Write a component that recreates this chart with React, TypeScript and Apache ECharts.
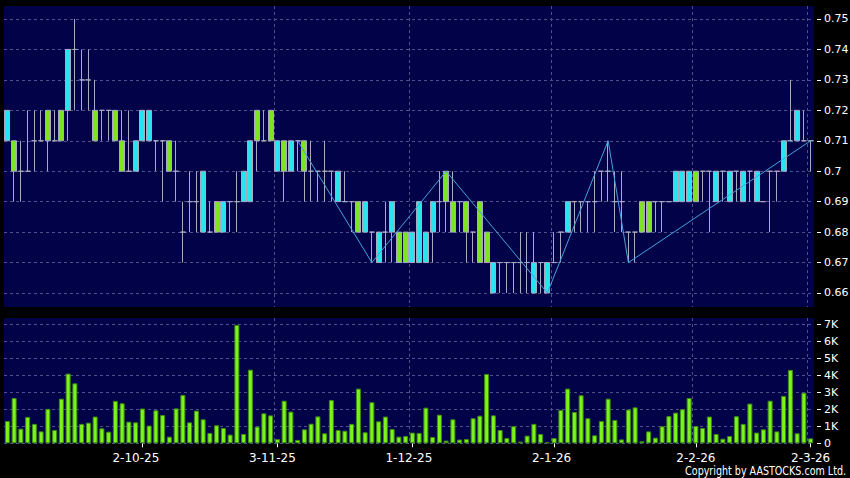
import React, { useEffect, useRef } from 'react';
import * as echarts from 'echarts';

// ---- trading days (day numbers per month) ----
const SEP_25 = [3, 4, 5, 8, 9, 10, 11, 12, 15, 16, 17, 18, 19, 22, 23, 24, 25, 26, 29, 30];
const OCT_25 = [2, 3, 6, 8, 9, 10, 13, 14, 15, 16, 17, 20, 21, 22, 23, 24, 27, 28, 30, 31];
const NOV_25 = [3, 4, 5, 6, 7, 10, 11, 12, 13, 14, 17, 18, 19, 20, 21, 24, 25, 26, 27, 28];
const DEC_25 = [1, 2, 3, 4, 5, 8, 9, 10, 11, 12, 15, 16, 17, 18, 19, 22, 23, 24, 29, 30, 31];
const JAN_26 = [2, 5, 6, 7, 8, 9, 12, 13, 14, 15, 16, 19, 20, 21, 22, 23, 26, 27, 28, 29, 30];
const FEB_26 = [2, 3, 4, 5, 6, 9, 10, 11, 12, 13, 16, 20, 23, 24, 25, 26, 27];
const MAR_26 = [2];

const MONTHS: [number[], number, number][] = [
  [SEP_25, 9, 25], [OCT_25, 10, 25], [NOV_25, 11, 25], [DEC_25, 12, 25],
  [JAN_26, 1, 26], [FEB_26, 2, 26], [MAR_26, 3, 26],
];
const CATEGORIES: string[] = MONTHS.flatMap(([days, m, y]) => days.map((d) => `${d}-${m}-${y}`));

const LABELED_DATES = ['2-10-25', '3-11-25', '1-12-25', '2-1-26', '2-2-26', '2-3-26'];

// ---- price data ----
const OPEN = [
  0.71, 0.71, 0.70, 0.70, 0.71, 0.71, 0.72, 0.71, 0.72, 0.72,
  0.74, 0.73, 0.73, 0.72, 0.72, 0.72, 0.72, 0.71, 0.70, 0.70,
  0.71, 0.71, 0.71, 0.71, 0.71, 0.70, 0.68, 0.69, 0.69, 0.68,
  0.68, 0.69, 0.68, 0.69, 0.69, 0.69, 0.69, 0.72, 0.71, 0.72,
  0.70, 0.71, 0.70, 0.71, 0.71, 0.70, 0.70, 0.70, 0.70, 0.69,
  0.69, 0.69, 0.69, 0.68, 0.68, 0.67, 0.68, 0.68, 0.68, 0.68,
  0.67, 0.67, 0.67, 0.68, 0.69, 0.70, 0.69, 0.69, 0.69, 0.68,
  0.69, 0.68, 0.66, 0.67, 0.67, 0.67, 0.67, 0.67, 0.66, 0.67,
  0.66, 0.67, 0.68, 0.68, 0.69, 0.69, 0.69, 0.69, 0.70, 0.70,
  0.69, 0.69, 0.68, 0.68, 0.69, 0.69, 0.69, 0.69, 0.69, 0.69,
  0.69, 0.69, 0.70, 0.70, 0.70, 0.69, 0.70, 0.69, 0.70, 0.69,
  0.70, 0.69, 0.69, 0.70, 0.70, 0.70, 0.71, 0.71, 0.71, 0.71,
];
const CLOSE = [
  0.72, 0.70, 0.70, 0.70, 0.71, 0.71, 0.71, 0.71, 0.71, 0.74,
  0.74, 0.73, 0.73, 0.71, 0.72, 0.72, 0.71, 0.70, 0.70, 0.71,
  0.72, 0.72, 0.71, 0.71, 0.70, 0.70, 0.68, 0.69, 0.69, 0.70,
  0.68, 0.68, 0.69, 0.69, 0.69, 0.70, 0.71, 0.71, 0.71, 0.71,
  0.71, 0.70, 0.71, 0.71, 0.70, 0.70, 0.70, 0.70, 0.70, 0.70,
  0.69, 0.69, 0.68, 0.69, 0.68, 0.68, 0.68, 0.69, 0.67, 0.67,
  0.68, 0.69, 0.68, 0.69, 0.69, 0.69, 0.68, 0.69, 0.68, 0.68,
  0.67, 0.67, 0.67, 0.67, 0.67, 0.67, 0.67, 0.67, 0.67, 0.67,
  0.67, 0.67, 0.68, 0.69, 0.69, 0.69, 0.69, 0.69, 0.70, 0.70,
  0.69, 0.69, 0.68, 0.68, 0.68, 0.68, 0.69, 0.69, 0.69, 0.70,
  0.70, 0.70, 0.69, 0.70, 0.70, 0.70, 0.70, 0.70, 0.70, 0.70,
  0.70, 0.70, 0.69, 0.70, 0.70, 0.71, 0.71, 0.72, 0.71, 0.71,
];
const LOW = [
  0.71, 0.69, 0.69, 0.70, 0.70, 0.71, 0.70, 0.71, 0.71, 0.71,
  0.72, 0.72, 0.72, 0.71, 0.71, 0.71, 0.71, 0.70, 0.70, 0.70,
  0.71, 0.71, 0.70, 0.69, 0.70, 0.69, 0.67, 0.68, 0.68, 0.68,
  0.68, 0.68, 0.68, 0.68, 0.68, 0.69, 0.69, 0.70, 0.71, 0.71,
  0.70, 0.69, 0.70, 0.70, 0.69, 0.69, 0.69, 0.69, 0.69, 0.69,
  0.69, 0.68, 0.68, 0.68, 0.67, 0.67, 0.67, 0.67, 0.67, 0.67,
  0.67, 0.67, 0.67, 0.67, 0.68, 0.68, 0.68, 0.68, 0.67, 0.67,
  0.67, 0.67, 0.66, 0.66, 0.66, 0.66, 0.66, 0.66, 0.66, 0.66,
  0.66, 0.67, 0.67, 0.68, 0.68, 0.68, 0.68, 0.68, 0.69, 0.69,
  0.68, 0.68, 0.67, 0.67, 0.68, 0.68, 0.68, 0.68, 0.69, 0.69,
  0.69, 0.69, 0.69, 0.69, 0.68, 0.69, 0.69, 0.69, 0.69, 0.69,
  0.69, 0.69, 0.69, 0.68, 0.69, 0.70, 0.71, 0.71, 0.71, 0.70,
];
const HIGH = [
  0.72, 0.71, 0.71, 0.72, 0.72, 0.72, 0.72, 0.72, 0.72, 0.74,
  0.75, 0.74, 0.74, 0.73, 0.72, 0.72, 0.72, 0.72, 0.72, 0.71,
  0.72, 0.72, 0.71, 0.71, 0.71, 0.71, 0.69, 0.70, 0.70, 0.70,
  0.69, 0.69, 0.69, 0.69, 0.70, 0.70, 0.71, 0.72, 0.72, 0.72,
  0.71, 0.71, 0.71, 0.71, 0.71, 0.71, 0.70, 0.71, 0.70, 0.70,
  0.70, 0.69, 0.69, 0.69, 0.68, 0.68, 0.69, 0.69, 0.68, 0.68,
  0.68, 0.69, 0.68, 0.69, 0.70, 0.70, 0.70, 0.69, 0.69, 0.68,
  0.69, 0.68, 0.67, 0.67, 0.67, 0.67, 0.68, 0.68, 0.68, 0.67,
  0.67, 0.68, 0.68, 0.69, 0.69, 0.69, 0.69, 0.70, 0.70, 0.71,
  0.70, 0.70, 0.68, 0.68, 0.69, 0.69, 0.69, 0.69, 0.69, 0.70,
  0.70, 0.70, 0.70, 0.70, 0.70, 0.70, 0.70, 0.70, 0.70, 0.70,
  0.70, 0.70, 0.69, 0.70, 0.70, 0.71, 0.73, 0.72, 0.72, 0.71,
];

// zig-zag pivots (category index, price)
const ZZ_INDEX = [43, 54, 65, 80, 89, 92, 119];
const ZZ_PRICE = [0.71, 0.67, 0.70, 0.66, 0.71, 0.67, 0.71];

// ---- volume ----
const VOLUME = [
  1310, 2660, 860, 1550, 1140, 700, 2020, 780, 2620, 4090,
  3520, 1140, 1210, 1570, 880, 680, 2490, 2350, 1270, 1230,
  2040, 1040, 1940, 1660, 390, 2050, 2840, 1230, 1920, 1410,
  610, 1060, 900, 510, 6950, 550, 4320, 980, 1760, 1640,
  250, 2500, 1860, 200, 820, 1150, 1580, 590, 2540, 780,
  740, 1140, 3210, 650, 2410, 1290, 1570, 840, 390, 430,
  630, 610, 2090, 370, 1680, 160, 1410, 220, 250, 1470,
  1620, 4070, 1640, 780, 310, 1000, 100, 450, 1140, 550,
  60, 310, 1960, 3210, 1840, 2820, 1470, 470, 1310, 2620,
  1370, 230, 1980, 2110, 120, 700, 330, 1000, 1600, 1800,
  2000, 2660, 1020, 900, 1570, 550, 270, 430, 1590, 1140,
  2330, 630, 820, 2500, 700, 2780, 4310, 590, 2970, 290,
];

const PRICE_TICKS = [0.66, 0.67, 0.68, 0.69, 0.7, 0.71, 0.72, 0.73, 0.74, 0.75];
const VOLUME_TICKS = [0, 1000, 2000, 3000, 4000, 5000, 6000, 7000];

const NAVY = '#020249';
const CYAN = '#27e5ef';
const GREEN = '#7ee41f';
const WICK = '#a9a9c4';
const VOL_FILL = '#7cf41a';
const VOL_BORDER = '#3c8a10';
const ZZ_COLOR = '#45a2dc';
const FONT = '"DejaVu Sans", Verdana, sans-serif';
const GRID_LINE = { color: '#505088', width: 1, type: [3, 3] as number[] };

export default function App() {
  const ref = useRef<HTMLDivElement>(null);

  useEffect(() => {
    if (!ref.current) return;
    const chart = echarts.init(ref.current, undefined, { renderer: 'svg' });

    const labeledSet = new Set(LABELED_DATES.map((d) => CATEGORIES.indexOf(d)));
    const isLabeled = (idx: number) => labeledSet.has(idx);
    const labelPad: Record<string, string> = {
      '2-10-25': 'p13', '3-11-25': 'p10', '1-12-25': 'p7', '2-1-26': 'p5', '2-2-26': 'p0', '2-3-26': 'p0',
    };

    const candleData = CATEGORIES.map((_, i) => [OPEN[i], CLOSE[i], LOW[i], HIGH[i]]);
    const zzData = ZZ_INDEX.map((idx, k) => [idx, ZZ_PRICE[k]]);

    const yLabel = { color: '#ffffff', fontSize: 11, fontFamily: FONT, margin: 7 };

    const option: any = {
      animation: false,
      backgroundColor: '#000000',
      grid: [
        { left: 4, right: 36, top: 6, height: 301, show: true, backgroundColor: NAVY, borderWidth: 0, containLabel: false, outerBoundsMode: 'none' },
        { left: 4, right: 36, top: 318, height: 125.3, show: true, backgroundColor: NAVY, borderWidth: 0, containLabel: false, outerBoundsMode: 'none' },
      ],
      xAxis: [
        {
          type: 'category', gridIndex: 0, data: CATEGORIES, boundaryGap: true,
          axisLine: { show: false }, axisTick: { show: false }, axisLabel: { show: false },
          splitLine: { show: true, interval: isLabeled, showMinLine: false, showMaxLine: false, lineStyle: GRID_LINE },
        },
        {
          type: 'category', gridIndex: 1, data: CATEGORIES, boundaryGap: true, offset: 3,
          axisLine: { show: false },
          axisTick: { show: true, interval: isLabeled, alignWithLabel: true, length: 4, lineStyle: { color: '#ffffff' } },
          axisLabel: {
            interval: isLabeled, color: '#ffffff', fontSize: 12, lineHeight: 12, fontFamily: FONT, margin: 5.5,
            formatter: (v: string) => `{${labelPad[v] || 'p0'}|${v}}`,
            rich: {
              p0: { padding: [0, 0, 0, 0], lineHeight: 12 },
              p5: { padding: [0, 5, 0, 0], lineHeight: 12 },
              p7: { padding: [0, 7, 0, 0], lineHeight: 12 },
              p10: { padding: [0, 10, 0, 0], lineHeight: 12 },
              p13: { padding: [0, 13, 0, 0], lineHeight: 12 },
            },
          },
          splitLine: { show: true, interval: isLabeled, showMinLine: false, showMaxLine: false, lineStyle: GRID_LINE },
        },
      ],
      yAxis: [
        {
          type: 'value', gridIndex: 0, position: 'right', offset: 3, min: 0.6554, max: 0.75427,
          axisLine: { show: false },
          axisTick: { show: true, customValues: PRICE_TICKS, length: 4, lineStyle: { color: '#ffffff' } },
          axisLabel: {
            ...yLabel, customValues: PRICE_TICKS,
            formatter: (v: number) => String(Number(v.toFixed(2))),
          },
          splitLine: { show: true, lineStyle: GRID_LINE },
        },
        {
          type: 'value', gridIndex: 1, position: 'right', offset: 3, min: 0, max: 7353,
          axisLine: { show: false },
          axisTick: { show: true, customValues: VOLUME_TICKS, length: 4, lineStyle: { color: '#ffffff' } },
          axisLabel: {
            ...yLabel, customValues: VOLUME_TICKS,
            formatter: (v: number) => (v === 0 ? '0' : `${Math.round(v / 1000)}K`),
          },
          splitLine: { show: true, lineStyle: GRID_LINE },
        },
      ],
      series: [
        {
          type: 'candlestick', xAxisIndex: 0, yAxisIndex: 0, data: candleData, barWidth: 5.4,
          itemStyle: {
            color: CYAN, color0: GREEN, borderColor: WICK, borderColor0: WICK, borderColorDoji: WICK, borderWidth: 1,
          },
        },
        {
          type: 'line', xAxisIndex: 0, yAxisIndex: 0, data: zzData, symbol: 'none', z: 5,
          lineStyle: { color: ZZ_COLOR, width: 1 },
        },
        {
          type: 'bar', xAxisIndex: 1, yAxisIndex: 1, data: VOLUME, barWidth: 5,
          itemStyle: { color: VOL_FILL, borderColor: VOL_BORDER, borderWidth: 1 },
        },
      ],
      graphic: [
        {
          type: 'text', x: 846, y: 471, scaleX: 0.85,
          style: {
            text: 'Copyright by AASTOCKS.com Ltd.', fill: '#ffffff',
            align: 'right', verticalAlign: 'middle', lineHeight: 12,
            font: '12.5px "DejaVu Sans Condensed", "DejaVu Sans", sans-serif',
          },
        },
      ],
    };

    chart.setOption(option);
    return () => chart.dispose();
  }, []);

  return (
    <div
      ref={ref}
      style={{ position: 'fixed', left: 0, top: 0, width: 850, height: 478, background: '#000' }}
    />
  );
}
